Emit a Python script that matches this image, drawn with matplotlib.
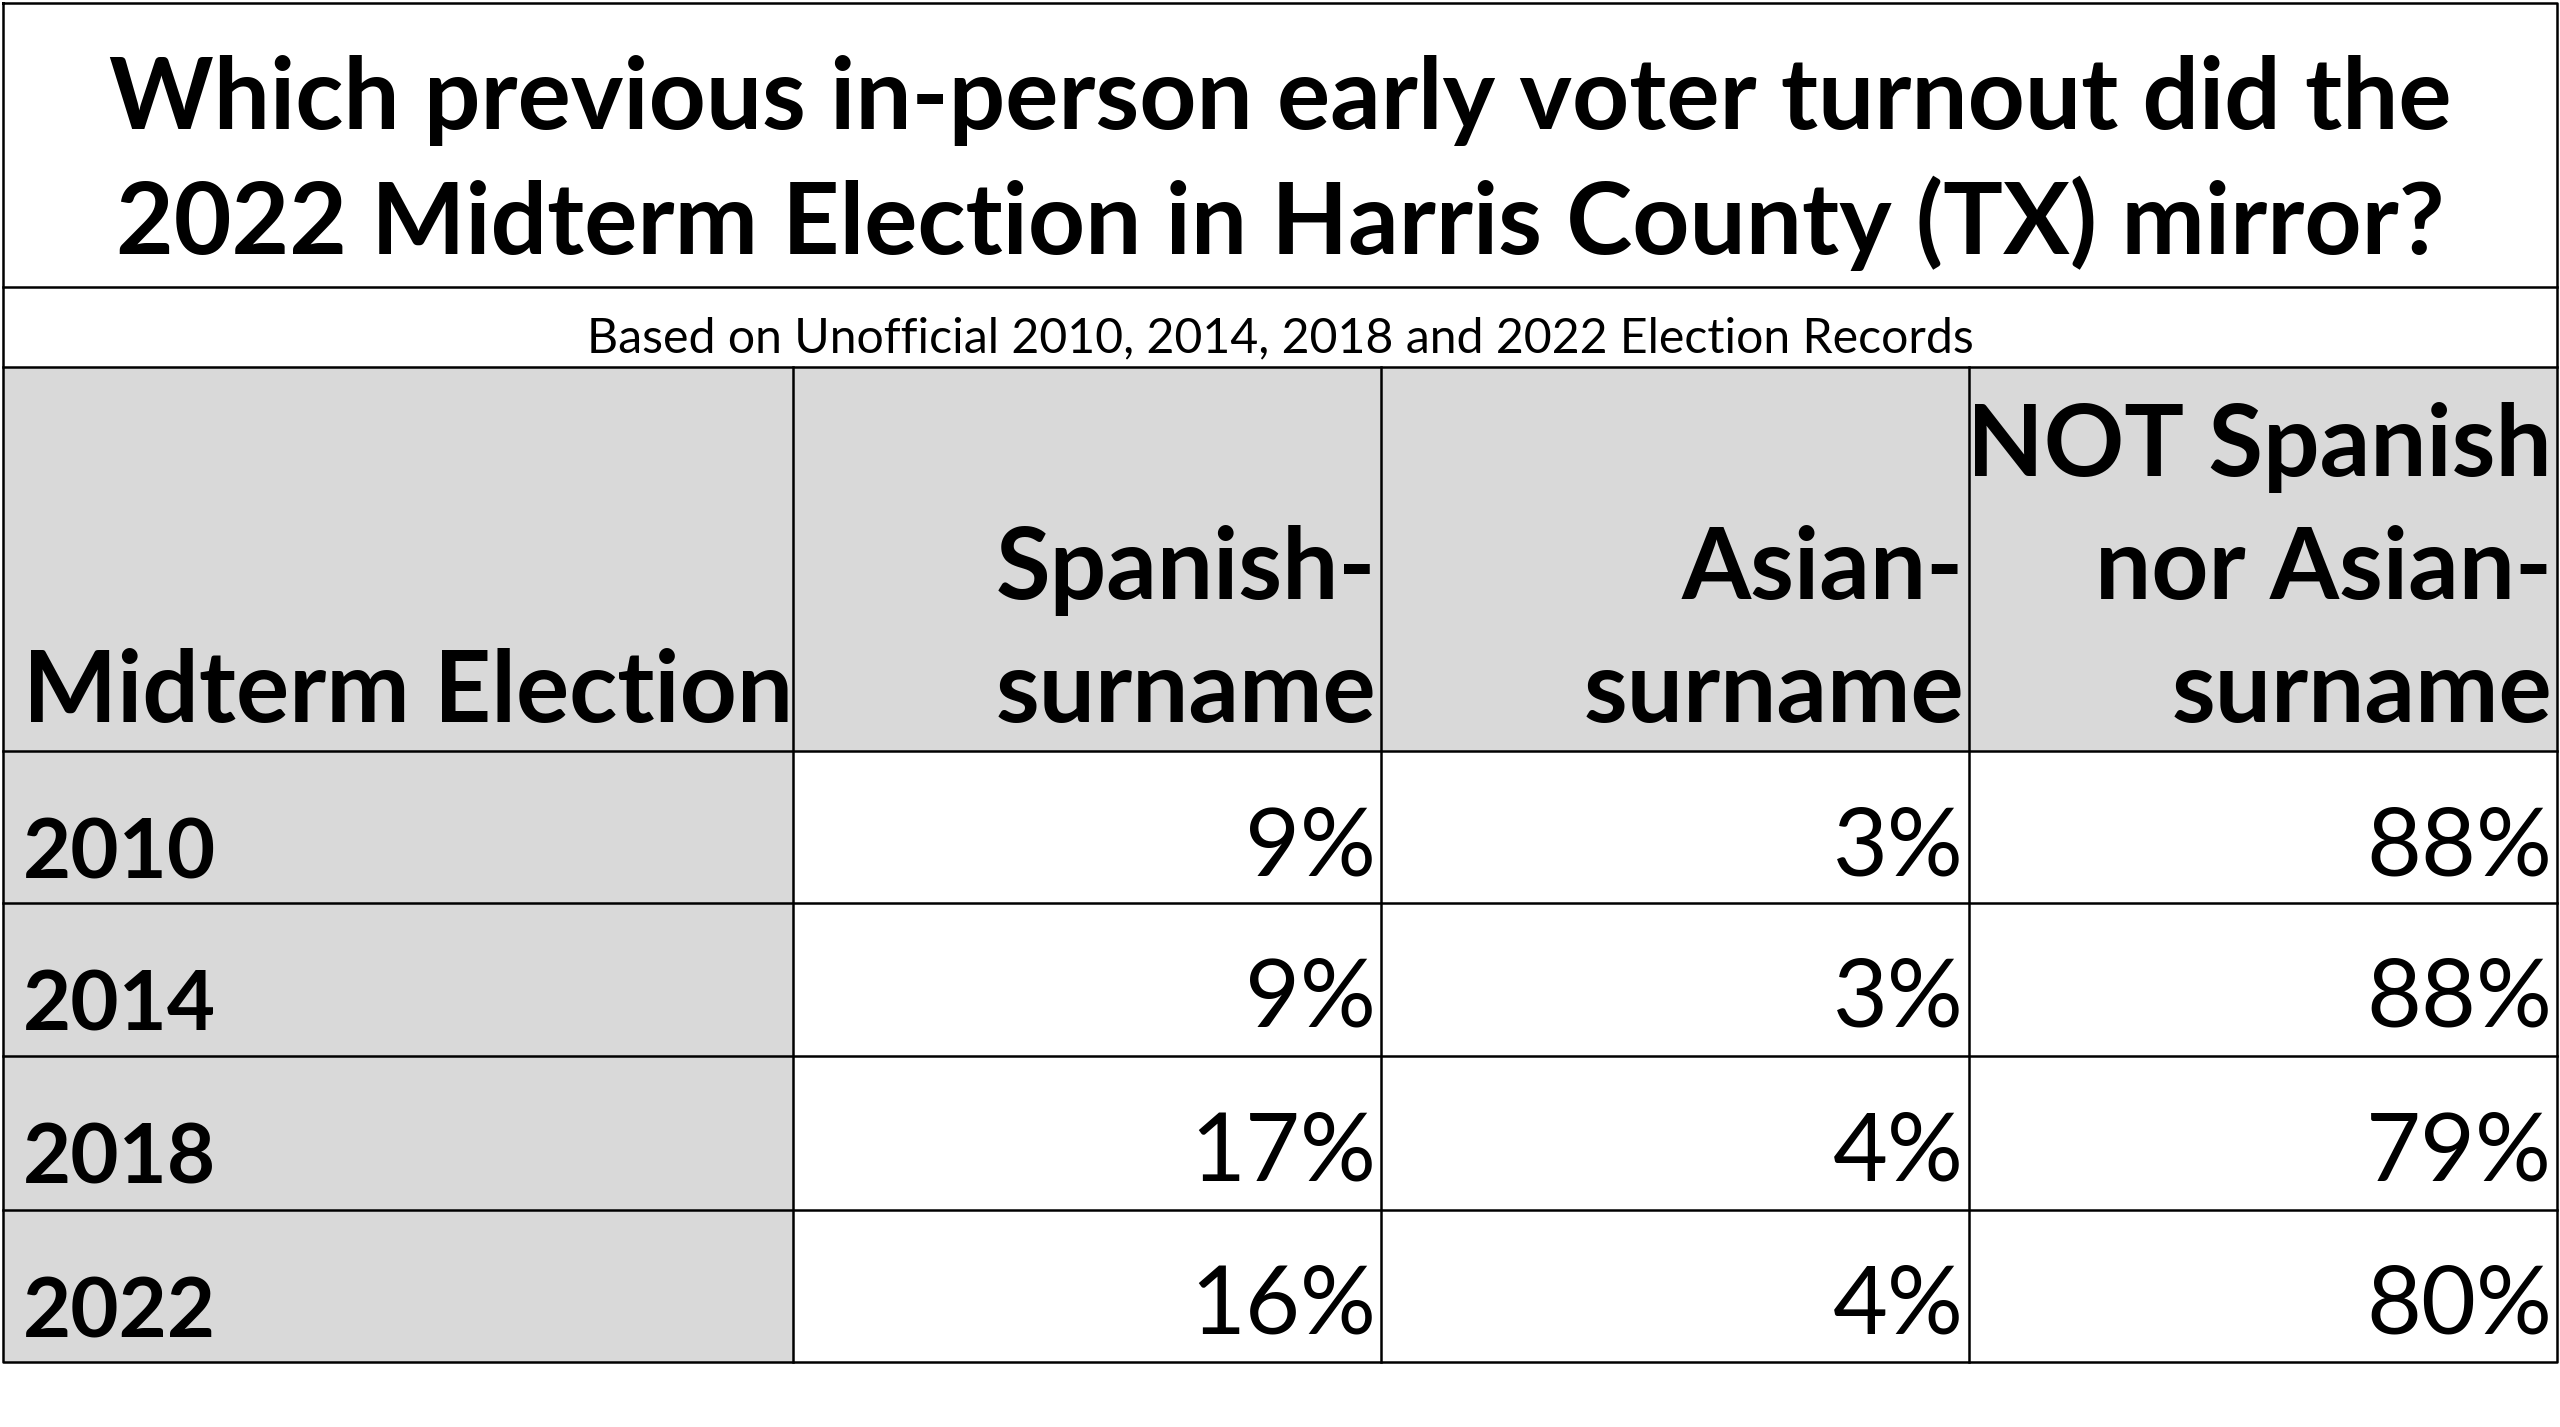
import matplotlib
matplotlib.use("Agg")
import matplotlib.pyplot as plt
from matplotlib.patches import Rectangle

title = "Which previous in-person early voter turnout did the\n2022 Midterm Election in Harris County (TX) mirror?"
subtitle = "Based on Unofficial 2010, 2014, 2018 and 2022 Election Records"
headers = ["Midterm Election", "Spanish-\nsurname", "Asian-\nsurname", "NOT Spanish\nnor Asian-\nsurname"]
years = ["2010", "2014", "2018", "2022"]
spanish = ["9%", "9%", "17%", "16%"]
asian = ["3%", "3%", "4%", "4%"]
other = ["88%", "88%", "79%", "80%"]

plt.rcParams['font.family'] = ['Lato', 'DejaVu Sans']
W, H = 1568, 874
S = 1.176
fig = plt.figure(figsize=(25.6, 14.27), dpi=100)
ax = fig.add_axes([0, 0, 1, 1])
ax.set_xlim(0, W); ax.set_ylim(H, 0); ax.axis('off')

xs = [2, 486, 846, 1206, 1566]
ys = [225, 460, 553, 647, 741, 834]
gray = '#d9d9d9'
lw = 1.8
ax.add_patch(Rectangle((xs[0], ys[0]), xs[-1]-xs[0], ys[1]-ys[0], fc=gray, ec='none'))
for i in range(4):
    ax.add_patch(Rectangle((xs[0], ys[i+1]), xs[1]-xs[0], ys[i+2]-ys[i+1], fc=gray, ec='none'))
ax.plot([2, 1566, 1566, 2, 2], [2, 2, 834, 834, 2], color='black', lw=lw)
for y in [176, 225] + ys[1:-1]:
    ax.plot([2, 1566], [y, y], color='black', lw=lw)
for x in xs[1:-1]:
    ax.plot([x, x], [225, 834], color='black', lw=lw)

ax.text(784, 100, title, ha='center', va='center', fontsize=61*S, fontweight='bold', linespacing=1.38)
ax.text(784, 207, subtitle, ha='center', va='center', fontsize=29.5*S)

for j, h in enumerate(headers):
    if j == 0:
        ax.text(14, 442, h, ha='left', va='baseline', fontsize=61*S, fontweight='bold')
    else:
        ax.text(xs[j+1]-3, 442, h, ha='right', va='baseline', fontsize=61*S, fontweight='bold', linespacing=1.43)

for i in range(4):
    base = ys[i+1] + 78
    ax.text(14, base, years[i], ha='left', va='baseline', fontsize=51*S, fontweight='bold')
    for j, col in enumerate([spanish, asian, other]):
        ax.text(xs[j+2]-3, base - 2, col[i], ha='right', va='baseline', fontsize=58*S)

fig.savefig("out.png", dpi=100, facecolor='white')
